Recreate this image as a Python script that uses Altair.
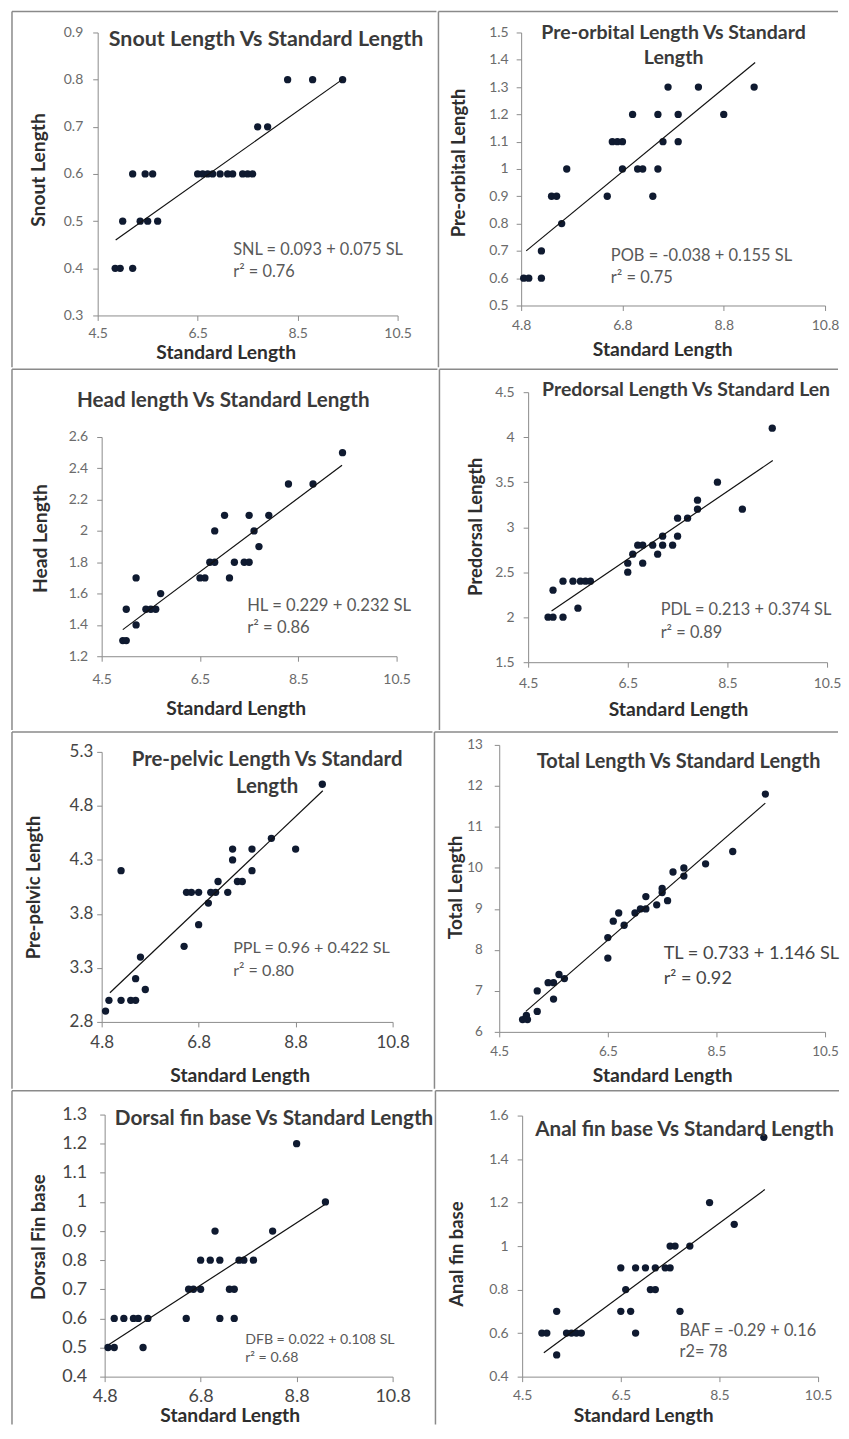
import altair as alt
import pandas as pd

FONT = "Lato"
PT = "#0f1a30"
AX = "#8c8c8c"
BORDER = "#8a8a8a"

# ---------------- data ----------------
# 1. Snout length vs standard length
SNL_SL = [8.3, 8.8, 9.4, 7.7, 7.9, 5.2, 5.45, 5.6, 6.5, 6.6, 6.7, 6.8, 6.95, 7.1, 7.2, 7.4, 7.5, 7.6,
          5.0, 5.35, 5.5, 5.7, 4.85, 4.95, 5.2]
SNL = [0.8, 0.8, 0.8, 0.7, 0.7, 0.6, 0.6, 0.6, 0.6, 0.6, 0.6, 0.6, 0.6, 0.6, 0.6, 0.6, 0.6, 0.6,
       0.5, 0.5, 0.5, 0.5, 0.4, 0.4, 0.4]
SNL_FIT_SL = [4.86, 9.39]
SNL_FIT = [0.46, 0.80]

# 2. Pre-orbital length
POB_SL = [7.7, 8.3, 9.4, 7.0, 7.5, 7.9, 8.8, 6.6, 6.7, 6.8, 7.6, 7.9, 5.7, 6.8, 7.1, 7.2, 7.5,
          5.4, 5.5, 6.5, 7.4, 5.6, 5.2, 4.85, 4.95, 5.2]
POB = [1.3, 1.3, 1.3, 1.2, 1.2, 1.2, 1.2, 1.1, 1.1, 1.1, 1.1, 1.1, 1.0, 1.0, 1.0, 1.0, 1.0,
       0.9, 0.9, 0.9, 0.9, 0.8, 0.7, 0.6, 0.6, 0.6]
POB_FIT_SL = [4.9, 9.42]
POB_FIT = [0.70, 1.39]

# 3. Head length
HL_SL = [9.4, 8.3, 8.8, 7.0, 7.5, 7.9, 6.8, 7.6, 7.7, 6.7, 6.8, 7.2, 7.4, 7.5, 5.2, 6.5, 6.6, 7.1,
         5.7, 5.0, 5.4, 5.5, 5.6, 5.2, 4.93, 5.0]
HL = [2.5, 2.3, 2.3, 2.1, 2.1, 2.1, 2.0, 2.0, 1.9, 1.8, 1.8, 1.8, 1.8, 1.8, 1.7, 1.7, 1.7, 1.7,
      1.6, 1.5, 1.5, 1.5, 1.5, 1.4, 1.3, 1.3]
HL_FIT_SL = [4.93, 9.39]
HL_FIT = [1.37, 2.42]

# 4. Predorsal length
PDL_SL = [9.4, 8.3, 8.8, 7.9, 7.9, 7.5, 7.7, 7.2, 7.5, 6.7, 6.8, 7.0, 7.2, 7.4, 6.6, 7.1, 6.5, 6.8,
          6.5, 5.2, 5.4, 5.55, 5.65, 5.75, 5.0, 5.5, 4.9, 5.0, 5.2]
PDL = [4.1, 3.5, 3.2, 3.3, 3.2, 3.1, 3.1, 2.9, 2.9, 2.8, 2.8, 2.8, 2.8, 2.8, 2.7, 2.7, 2.6, 2.6,
       2.5, 2.4, 2.4, 2.4, 2.4, 2.4, 2.3, 2.1, 2.0, 2.0, 2.0]
PDL_FIT_SL = [4.97, 9.41]
PDL_FIT = [2.07, 3.74]

# 5. Pre-pelvic length
PPL_SL = [9.35, 8.3, 7.5, 7.9, 8.8, 7.5, 5.2, 7.9, 7.2, 7.6, 7.7, 6.55, 6.65, 6.8, 7.05, 7.15, 7.4,
          7.0, 6.8, 6.5, 5.6, 5.5, 5.7, 4.95, 5.2, 5.4, 5.5, 4.88]
PPL = [5.0, 4.5, 4.4, 4.4, 4.4, 4.3, 4.2, 4.2, 4.1, 4.1, 4.1, 4.0, 4.0, 4.0, 4.0, 4.0, 4.0,
       3.9, 3.7, 3.5, 3.4, 3.2, 3.1, 3.0, 3.0, 3.0, 3.0, 2.9]
PPL_FIT_SL = [4.97, 9.36]
PPL_FIT = [3.07, 4.94]

# 6. Total length
TL_SL = [9.4, 8.8, 8.3, 7.9, 7.9, 7.7, 7.5, 7.5, 7.6, 7.4, 7.2, 7.2, 7.1, 7.0, 6.8, 6.7, 6.6, 6.5,
         6.5, 5.7, 5.6, 5.5, 5.4, 5.5, 5.2, 5.2, 5.0, 4.93, 5.02]
TL = [11.8, 10.4, 10.1, 10.0, 9.8, 9.9, 9.5, 9.4, 9.2, 9.1, 9.3, 9.0, 9.0, 8.9, 8.6, 8.9, 8.7, 8.3,
      7.8, 7.3, 7.4, 7.2, 7.2, 6.8, 7.0, 6.5, 6.4, 6.3, 6.3]
TL_FIT_SL = [4.99, 9.40]
TL_FIT = [6.5, 11.58]

# 7. Dorsal fin base
DFB_SL = [8.8, 9.4, 7.1, 8.3, 6.8, 7.0, 7.2, 7.6, 7.7, 7.9, 6.55, 6.65, 6.8, 7.4, 7.5,
          5.0, 5.2, 5.4, 5.5, 5.7, 6.5, 7.2, 7.5, 4.87, 5.0, 5.6]
DFB = [1.2, 1.0, 0.9, 0.9, 0.8, 0.8, 0.8, 0.8, 0.8, 0.8, 0.7, 0.7, 0.7, 0.7, 0.7,
       0.6, 0.6, 0.6, 0.6, 0.6, 0.6, 0.6, 0.6, 0.5, 0.5, 0.5]
DFB_FIT_SL = [4.89, 9.38]
DFB_FIT = [0.51, 0.99]

# 8. Anal fin base
BAF_SL = [9.4, 8.3, 8.8, 7.5, 7.6, 7.9, 6.5, 6.8, 7.0, 7.2, 7.4, 7.5, 6.6, 7.1, 7.2,
          5.2, 6.5, 6.7, 7.7, 4.9, 5.0, 5.4, 5.5, 5.6, 5.7, 6.8, 5.2]
BAF = [1.5, 1.2, 1.1, 1.0, 1.0, 1.0, 0.9, 0.9, 0.9, 0.9, 0.9, 0.9, 0.8, 0.8, 0.8,
       0.7, 0.7, 0.7, 0.7, 0.6, 0.6, 0.6, 0.6, 0.6, 0.6, 0.6, 0.5]
BAF_FIT_SL = [4.94, 9.42]
BAF_FIT = [0.51, 1.26]

# tick labels
X_TICKS_A = [4.5, 6.5, 8.5, 10.5]
X_TICKS_B = [4.8, 6.8, 8.8, 10.8]
Y_TICKS_SNL = [0.3, 0.4, 0.5, 0.6, 0.7, 0.8, 0.9]
Y_TICKS_POB = [0.5, 0.6, 0.7, 0.8, 0.9, 1.0, 1.1, 1.2, 1.3, 1.4, 1.5]
Y_TICKS_HL = [1.2, 1.4, 1.6, 1.8, 2.0, 2.2, 2.4, 2.6]
Y_TICKS_PDL = [1.5, 2.0, 2.5, 3.0, 3.5, 4.0, 4.5]
Y_TICKS_PPL = [2.8, 3.3, 3.8, 4.3, 4.8, 5.3]
Y_TICKS_TL = [6, 7, 8, 9, 10, 11, 12, 13]
Y_TICKS_DFB = [0.4, 0.5, 0.6, 0.7, 0.8, 0.9, 1.0, 1.1, 1.2, 1.3]
Y_TICKS_BAF = [0.4, 0.6, 0.8, 1.0, 1.2, 1.4, 1.6]

ONE = pd.DataFrame({"k": [0]})


def rule(x1, x2, y1, y2, op=1.0):
    return alt.Chart(ONE).mark_rule(color=BORDER, strokeWidth=1.5, opacity=op).encode(
        x=alt.value(x1), x2=alt.value(x2), y=alt.value(y1), y2=alt.value(y2))


def axis(values, size, color, pad, offset):
    return alt.Axis(values=values, title=None, grid=False, labelExpr="'' + datum.value",
                    labelFont=FONT, labelFontSize=size, labelColor=color, labelPadding=pad,
                    labelFlush=False, labelOverlap=False, domainColor=AX, tickColor=AX,
                    tickSize=5, domainWidth=1, tickWidth=1, offset=offset)


def panel(xs, ys, fx, fy, xdom, xticks, ydom, yticks, W, H, L, R, T, B,
          lab_size, lab_color, xpad, ypad, texts):
    """W,H: plot area; L,R,T,B: distance from plot area to the cell border."""
    CW, CH = L + W + R, T + H + B
    xe = alt.X("x:Q", scale=alt.Scale(domain=xdom, range=[L, L + W], nice=False, zero=False),
               axis=axis(xticks, lab_size, lab_color, xpad, -B))
    ye = alt.Y("y:Q", scale=alt.Scale(domain=ydom, range=[T + H, T], nice=False, zero=False),
               axis=axis(yticks, lab_size, lab_color, ypad, -L))
    pts = alt.Chart(pd.DataFrame({"x": xs, "y": ys})).mark_circle(
        size=54, color=PT, opacity=1).encode(x=xe, y=ye)
    fit = alt.Chart(pd.DataFrame({"x": fx, "y": fy})).mark_line(
        color="#111111", strokeWidth=1.2).encode(x=xe, y=ye)
    layers = [
        rule(0, CW, 0, 0),            # top border
        rule(0, 0, 0, CH),            # left border
        rule(CW, CW, 0, CH, 0),       # right extent (invisible)
        rule(0, CW, CH, CH, 0),       # bottom extent (invisible)
        pts, fit,
    ]
    for (s, x, y, size, bold, color, align, angle, limit) in texts:
        kw = dict(text=s, fontSize=size, font=FONT, fontWeight="bold" if bold else "normal",
                  color=color, align=align, baseline="middle")
        if angle:
            kw["angle"] = angle
        if limit:
            kw["limit"] = limit
            kw["ellipsis"] = "\u200b"
        layers.append(alt.Chart(ONE).mark_text(**kw).encode(
            x=alt.value(L + x), y=alt.value(T + y)))
    return alt.layer(*layers).properties(width=CW, height=CH)


def T_(s, x, y, size, bold=False, color="#595959", align="center", angle=0, limit=0):
    return (s, x, y, size, bold, color, align, angle, limit)


XT = "Standard Length"
TCOL = "#3a3a3a"
ACOL = "#2e2e2e"

p1 = panel(SNL_SL, SNL, SNL_FIT_SL, SNL_FIT, [4.5, 10.5], X_TICKS_A, [0.3, 0.9], Y_TICKS_SNL,
           301, 284, 86, 39, 21, 52, 14, "#6b6b6b", 6, 10, [
               T_("Snout Length Vs Standard Length", 169, 8, 21.5, True, TCOL),
               T_("SNL = 0.093 + 0.075 SL", 136, 218, 16.4, align="left"),
               T_("r² = 0.76", 136, 240, 16.4, align="left"),
               T_(XT, 129, 322, 19.3, True, ACOL),
               T_("Snout Length", -59, 138, 19.3, True, ACOL, angle=270),
           ])

p2 = panel(POB_SL, POB, POB_FIT_SL, POB_FIT, [4.8, 10.8], X_TICKS_B, [0.5, 1.5], Y_TICKS_POB,
           305, 274, 83, 13, 21, 62, 14, "#6b6b6b", 8, 8, [
               T_("Pre-orbital Length Vs Standard", 153, 1, 19.6, True, TCOL),
               T_("Length", 153, 26, 19.6, True, TCOL),
               T_("POB = -0.038 + 0.155 SL", 90, 224, 16.5, align="left"),
               T_("r² = 0.75", 90, 246, 16.5, align="left"),
               T_(XT, 142, 319, 19.3, True, ACOL),
               T_("Pre-orbital Length", -62, 131, 18.5, True, ACOL, angle=270),
           ])

p3 = panel(HL_SL, HL, HL_FIT_SL, HL_FIT, [4.5, 10.5], X_TICKS_A, [1.2, 2.6], Y_TICKS_HL,
           296, 220, 90, 41, 68, 74, 14, "#6b6b6b", 11, 9, [
               T_("Head length Vs Standard Length", 122, -36, 20.7, True, TCOL),
               T_("HL = 0.229 + 0.232 SL", 146, 170, 16.7, align="left"),
               T_("r² = 0.86", 146, 192, 16.7, align="left"),
               T_(XT, 135, 273, 19.3, True, ACOL),
               T_("Head Length", -61, 102, 19.3, True, ACOL, angle=270),
           ])

p4 = panel(PDL_SL, PDL, PDL_FIT_SL, PDL_FIT, [4.5, 10.5], X_TICKS_A, [1.5, 4.5], Y_TICKS_PDL,
           300, 271, 89, 11, 23, 68, 14, "#6b6b6b", 9, 9, [
               T_("Predorsal Length Vs Standard Length", 14, -2, 19.5, True, TCOL,
                  align="left", limit=297),
               T_("PDL = 0.213 + 0.374 SL", 133, 219, 16.4, align="left"),
               T_("r² = 0.89", 133, 242, 16.4, align="left"),
               T_(XT, 151, 319, 19.3, True, ACOL),
               T_("Predorsal Length", -52, 135, 18.5, True, ACOL, angle=270),
           ])

p5 = panel(PPL_SL, PPL, PPL_FIT_SL, PPL_FIT, [4.8, 10.8], X_TICKS_B, [2.8, 5.3], Y_TICKS_PPL,
           292, 271, 90, 40, 20, 67, 17, "#454545", 8, 4, [
               T_("Pre-pelvic Length Vs Standard", 166, 8, 20.5, True, TCOL),
               T_("Length", 166, 35, 20.5, True, TCOL),
               T_("PPL = 0.96 + 0.422 SL", 132, 197, 16.2, align="left"),
               T_("r² = 0.80", 132, 220, 16.2, align="left"),
               T_(XT, 139, 325, 19.3, True, ACOL),
               T_("Pre-pelvic Length", -68, 136, 18.5, True, ACOL, angle=270),
           ])

p6 = panel(TL_SL, TL, TL_FIT_SL, TL_FIT, [4.5, 10.5], X_TICKS_A, [6, 13], Y_TICKS_TL,
           327, 288, 65, 13, 13, 57, 13.5, "#6b6b6b", 8, 12, [
               T_("Total Length Vs Standard Length", 180, 17, 20, True, TCOL),
               T_("TL = 0.733 + 1.146 SL", 165, 210, 18.2, color="#454545", align="left"),
               T_("r² = 0.92", 165, 235, 18.2, color="#454545", align="left"),
               T_(XT, 164, 332, 19.3, True, ACOL),
               T_("Total Length", -43, 143, 19, True, ACOL, angle=270),
           ])

p7 = panel(DFB_SL, DFB, DFB_FIT_SL, DFB_FIT, [4.8, 10.8], X_TICKS_B, [0.4, 1.3], Y_TICKS_DFB,
           289, 263, 93, 40, 24, 48, 18, "#454545", 6, 13, [
               T_("Dorsal fin base Vs Standard Length", 170, 4, 20.8, True, TCOL),
               T_("DFB = 0.022 + 0.108 SL", 141, 226, 14.2, align="left"),
               T_("r² = 0.68", 141, 244, 14.2, align="left"),
               T_(XT, 126, 303, 19.3, True, ACOL),
               T_("Dorsal Fin base", -66, 123, 18.5, True, ACOL, angle=270),
           ])

p8 = panel(BAF_SL, BAF, BAF_FIT_SL, BAF_FIT, [4.5, 10.5], X_TICKS_A, [0.4, 1.6], Y_TICKS_BAF,
           297, 262, 87, 21, 25, 48, 14, "#6b6b6b", 7, 9, [
               T_("Anal fin base Vs Standard Length", 163, 15, 20.7, True, TCOL),
               T_("BAF = -0.29 + 0.16", 158, 216, 16.4, align="left"),
               T_("r2= 78", 158, 237, 16.4, align="left"),
               T_(XT, 122, 302, 19.3, True, ACOL),
               T_("Anal fin base", -65, 139, 18.5, True, ACOL, angle=270),
           ])

row1 = alt.hconcat(p1, p2, spacing=0)
row2 = alt.hconcat(p3, p4, spacing=0)
row3 = alt.hconcat(p5, p6, spacing=0)
row4 = alt.hconcat(p7, p8, spacing=0)

chart = alt.vconcat(row1, row2, row3, row4, spacing=0).properties(
    padding={"left": 3, "top": 0, "right": 0, "bottom": 0},
    background="white",
).configure_view(stroke=None).configure_concat(spacing=0)

chart.save("out.html", embed_options={"renderer": "svg", "actions": False})
